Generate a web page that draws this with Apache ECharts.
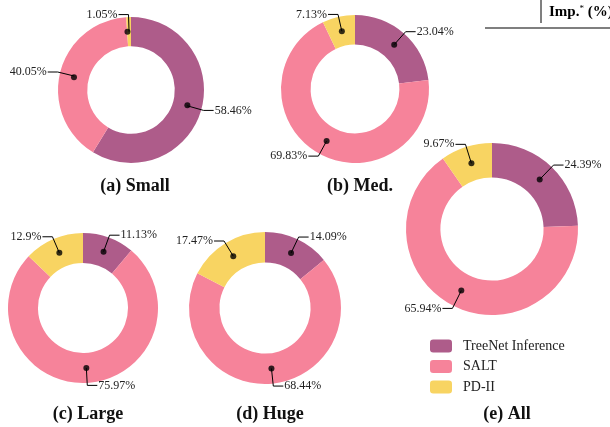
<!DOCTYPE html>
<html>
<head>
<meta charset="utf-8">
<script src="https://cdn.jsdelivr.net/npm/echarts@6/dist/echarts.min.js"></script>
<style>
  html, body { margin: 0; padding: 0; background: #fff; }
  #chart { width: 610px; height: 427px; }
</style>
</head>
<body>
<div id="chart"></div>
<script>
// 数据
var names = ['TreeNet Inference', 'SALT', 'PD-II'];
var colors = ['#AE5C8A', '#F6839A', '#F8D462'];
var captions = ['(a) Small', '(b) Med.', '(c) Large', '(d) Huge', '(e) All'];
var small = [58.46, 40.05, 1.05];
var med = [23.04, 69.83, 7.13];
var large = [11.13, 75.97, 12.9];
var huge = [14.09, 68.44, 17.47];
var all = [24.39, 65.94, 9.67];
var groups = [small, med, large, huge, all];

// 布局 [cx, cy, r, captionY]
var layout = [
    [131, 90, 73, 184],
    [355, 89, 74, 184],
    [83, 308, 75, 412],
    [265, 308, 76, 412],
    [492, 229, 86, 412]
];
var captionX = [130, 355, 83, 265, 502];
var INNER = 0.6, MID = 0.8;
var serif = 'Liberation Serif';

var series = [], polar = [], angleAxis = [], radiusAxis = [], title = [];

groups.forEach(function(vals, i) {
    var L = layout[i];
    var center = [L[0], L[1]];
    //圆环
    series.push({
        type: 'pie',
        name: captions[i],
        center: center,
        radius: [L[2] * INNER, L[2]],
        startAngle: 90,
        clockwise: true,
        silent: true,
        z: 2,
        label: { show: false },
        labelLine: { show: false },
        itemStyle: { borderWidth: 0 },
        data: vals.map(function(v, k) {
            return { name: names[k], value: v, itemStyle: { color: colors[k] } };
        })
    });
    //标签 (从圆环中线引出)
    series.push({
        type: 'pie',
        name: 'lbl' + i,
        center: center,
        radius: [0, L[2] * MID],
        startAngle: 90,
        clockwise: true,
        silent: true,
        z: 5,
        avoidLabelOverlap: false,
        itemStyle: { color: 'rgba(0,0,0,0)' },
        label: {
            show: true,
            position: 'outside',
            formatter: function(p) { return p.value + '%'; },
            color: '#222',
            fontFamily: serif,
            fontSize: 12,
            distanceToLabelLine: 1
        },
        labelLine: {
            show: true,
            length: L[2] * 0.22 + 1,
            length2: 10,
            lineStyle: { color: '#000', width: 1 }
        },
        data: vals.map(function(v, k) {
            return { name: 'l' + i + '_' + k, value: v };
        })
    });
    //圆点
    polar.push({ center: center, radius: L[2] });
    angleAxis.push({ polarIndex: i, type: 'value', min: 0, max: 100, startAngle: 90, clockwise: true, show: false });
    radiusAxis.push({ polarIndex: i, type: 'value', min: 0, max: 1, show: false });
    var cum = 0;
    var dots = vals.map(function(v) {
        var a = cum + v / 2;
        cum += v;
        return [MID, a];
    });
    series.push({
        type: 'scatter',
        coordinateSystem: 'polar',
        polarIndex: i,
        symbolSize: 6,
        silent: true,
        z: 6,
        itemStyle: { color: '#000' },
        data: dots
    });
    title.push({
        text: captions[i],
        left: captionX[i],
        top: layout[i][3] - 12,
        textAlign: 'center',
        textStyle: { fontFamily: serif, fontSize: 18, fontWeight: 'bold', color: '#111' }
    });
});

var myChart = echarts.init(document.getElementById('chart'));
myChart.setOption({
    animation: false,
    title: title,
    polar: polar,
    angleAxis: angleAxis,
    radiusAxis: radiusAxis,
    legend: {
        orient: 'vertical',
        left: 425,
        top: 334,
        itemWidth: 22,
        itemHeight: 13,
        itemGap: 6.5,
        selectedMode: false,
        data: names,
        textStyle: { fontFamily: serif, fontSize: 14, lineHeight: 13, color: '#222', padding: [0, 0, 0, 6] }
    },
    graphic: [
        { type: 'line', shape: { x1: 541, y1: 0, x2: 541, y2: 23 }, style: { stroke: '#000', lineWidth: 1 } },
        { type: 'line', shape: { x1: 485, y1: 28, x2: 610, y2: 28 }, style: { stroke: '#000', lineWidth: 1.2 } },
        {
            type: 'text', left: 549, top: 4,
            style: {
                text: '{b|Imp.}{s|*}{b| (%)}',
                rich: {
                    b: { fontFamily: serif, fontSize: 15, fontWeight: 'bold', fill: '#000' },
                    s: { fontFamily: serif, fontSize: 9, fill: '#000', verticalAlign: 'top', padding: [0, 0, 7, 0] }
                }
            }
        }
    ],
    series: series
});
</script>
</body>
</html>
